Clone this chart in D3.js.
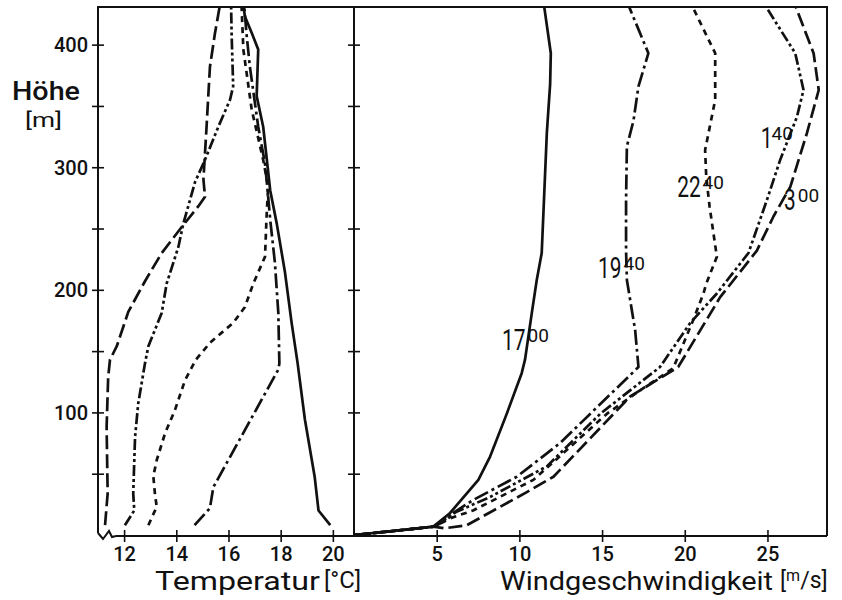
<!DOCTYPE html>
<html><head><meta charset="utf-8">
<script src="https://cdn.jsdelivr.net/npm/d3@7"></script>
<style>
body{margin:0;background:#fff}
text{font-family:Roboto,"DejaVu Sans",sans-serif;fill:#111;font-weight:400}
</style>
</head><body>
<svg id="chart" width="842" height="600"></svg>
<script>
// ---------- data ----------
const heightTicks = [50,100,150,200,250,300,350,400];
const heightLabels = [100,200,300,400];
const tempTicks = [12,14,16,18,20];
const windTicks = [5,10,15,20,25];
const seriesTimes = ["17:00","19:40","22:40","1:40","3:00"];

// temperature profiles [°C, height m]
const temp1700 = [[19.9,8],[19.45,20],[19.3,48],[18.93,94],[18.65,140],[18.42,173],[18.16,215],[17.85,254],[17.6,281],[17.33,333],[17.08,358],[17.14,396],[16.9,409],[16.63,423],[16.57,432]];
const temp1940 = [[14.7,8],[15.29,22],[15.42,39],[17.91,135],[17.95,140],[17.91,181],[17.78,222],[17.6,257],[17.5,281],[17.4,303],[17.14,333],[16.82,382],[16.69,409],[16.6,432]];
const temp2240 = [[12.93,8],[13.25,23],[13.18,34],[13.12,48],[13.25,61],[13.57,83],[13.95,102],[14.33,126],[14.75,143],[15.3,157],[16.18,173],[16.63,186],[16.95,205],[17.4,227],[17.46,260],[17.52,284],[17.33,306],[16.89,347],[16.57,396],[16.5,432]];
const temp0140 = [[12.03,8],[12.39,20],[12.35,34],[12.42,80],[12.54,107],[12.8,140],[12.93,154],[13.44,181],[13.63,205],[14.08,235],[14.27,254],[14.72,288],[15.1,306],[15.61,333],[16.06,355],[16.18,366],[16.12,409],[16.1,432]];
const temp0300 = [[11.27,8],[11.37,34],[11.33,88],[11.39,129],[11.46,143],[11.72,154],[12.16,182],[12.8,207],[13.44,230],[14.2,251],[14.84,268],[15.1,276],[15.04,290],[15.16,333],[15.29,382],[15.48,409],[15.67,432]];

// wind profiles [m/s, height m]
const wind1700 = [[0,0],[2.0,2.7],[4.8,6.8],[5.81,18],[7.52,45],[8.23,64],[9.24,99],[10.14,132],[10.34,143],[10.75,181],[11.05,208],[11.35,230],[11.66,328],[11.86,368],[11.9,393],[11.49,432]];
const wind1940 = [[0,0],[2.0,2.7],[4.8,6.8],[5.6,12],[6.0,18],[7.2,28.5],[9.84,47.5],[12.46,75],[17.2,137],[17.0,167],[16.5,208],[16.45,232],[16.45,273],[16.5,317],[16.9,338],[17.2,366],[17.8,393],[16.6,432]];
const wind2240 = [[0,0],[2.0,2.7],[4.8,6.8],[5.8,13.6],[7.2,20],[10.85,45],[12.67,67],[15.3,99],[17.3,118],[19.3,136],[20.5,175],[21.13,197],[21.3,205],[21.94,227],[21.5,268],[21.3,292],[21.23,314],[21.84,355],[21.84,393],[20.43,432]];
const wind0140 = [[0,0],[2.0,2.7],[4.8,6.8],[6.2,19],[8.23,31],[11.66,56],[14.9,99],[18.5,137],[20.33,173],[21.94,197],[23.85,230],[24.96,273],[25.77,306],[26.78,341],[27.18,363],[26.68,393],[24.86,432]];
const wind0300 = [[0,0],[2.0,2.7],[4.8,6.8],[5.5,5.5],[6.82,8],[10.45,35],[12.06,47.5],[16.7,113],[19.6,137],[22.14,194],[24.36,232],[25.37,260],[26.38,284],[27.39,328],[28.1,363],[27.79,393],[26.68,432]];

const tempSeries = [temp1700, temp1940, temp2240, temp0140, temp0300];
const windSeries = [wind1700, wind1940, wind2240, wind0140, wind0300];
const labelMain = ["17","19","22","1","3"];
const labelSup  = ["00","40","40","40","00"];
// label anchors in data units [m/s, m]
const labelAnchor = [[8.95,151],[14.76,209.6],[19.54,275.7],[24.6,315.7],[26.0,265]];

// ---------- layout / style ----------
const dashes = [null, "15,4,3,4", "6,5", "11,3,3,3,3,3", "14,5"];

const svg = d3.select("#chart");
const y = d3.scaleLinear().domain([0, 430.7]).range([535, 7]);
const xT = d3.scaleLinear().domain([11, 20.81]).range([98, 354]);
const xW = d3.scaleLinear().domain([0, 28.6]).range([354, 827]);

const defs = svg.append("defs");
defs.append("clipPath").attr("id","clipL").append("rect").attr("x",98).attr("y",7).attr("width",256).attr("height",530);
defs.append("clipPath").attr("id","clipR").append("rect").attr("x",354).attr("y",7).attr("width",473).attr("height",530);

// frame
const frame = svg.append("g").attr("stroke","#111").attr("stroke-width",2).attr("fill","none");
frame.append("line").attr("x1",97).attr("x2",828).attr("y1",7).attr("y2",7);
frame.append("line").attr("x1",98).attr("x2",98).attr("y1",7).attr("y2",533);
frame.append("path").attr("d","M98,533 L103,539 L109,531 L112,537 L116,536");
frame.append("line").attr("x1",116).attr("x2",827).attr("y1",536).attr("y2",536);
frame.append("line").attr("x1",827).attr("x2",827).attr("y1",7).attr("y2",536);

// y axes
function styleY(g){
  g.selectAll(".tick line").attr("x1",-6).attr("x2",6).attr("stroke","#111").attr("stroke-width",1.6);
  g.selectAll(".tick text").attr("x",-10).style("font-size","20px").style("font-weight","500").attr("dy","0.35em");
}
const gyL = svg.append("g").attr("transform","translate(98,0)")
  .call(d3.axisLeft(y).tickValues(heightTicks).tickSize(6).tickFormat(d => heightLabels.includes(d) ? d : ""));
styleY(gyL);
gyL.select(".domain").remove();
const gyR = svg.append("g").attr("transform","translate(354,0)")
  .call(d3.axisLeft(y).tickValues(heightTicks).tickSize(6).tickFormat(""));
gyR.select(".domain").attr("d","M0,7V536").attr("stroke","#111").attr("stroke-width",2);
styleY(gyR);

// x axes
function styleX(g){
  g.select(".domain").remove();
  g.selectAll(".tick line").attr("y1",-6).attr("y2",6).attr("stroke","#111").attr("stroke-width",1.6);
  g.selectAll(".tick text").attr("y",11).attr("dy","0.71em").style("font-size","20px").style("font-weight","500");
}
const gxT = svg.append("g").attr("transform","translate(0,536)").call(d3.axisBottom(xT).tickValues(tempTicks).tickSize(6));
styleX(gxT);
const gxW = svg.append("g").attr("transform","translate(0,536)").call(d3.axisBottom(xW).tickValues(windTicks).tickSize(6));
styleX(gxW);

// curves
const lineT = d3.line().x(d => xT(d[0])).y(d => y(d[1]));
const lineW = d3.line().x(d => xW(d[0])).y(d => y(d[1]));
const gL = svg.append("g").attr("clip-path","url(#clipL)");
const gR = svg.append("g").attr("clip-path","url(#clipR)");
tempSeries.forEach((s,i) => {
  gL.append("path").attr("d", lineT(s)).attr("fill","none").attr("stroke","#111")
    .attr("stroke-width",2.7).attr("stroke-dasharray", dashes[i]).attr("stroke-linejoin","round");
});
windSeries.forEach((s,i) => {
  gR.append("path").attr("d", lineW(s)).attr("fill","none").attr("stroke","#111")
    .attr("stroke-width",2.7).attr("stroke-dasharray", dashes[i]).attr("stroke-linejoin","round");
});

// curve labels: condensed main digits + superscript minutes
const condense = 0.72;
labelAnchor.forEach((a,i) => {
  const x0 = xW(a[0]), y0 = y(a[1]);
  const m = svg.append("text").attr("transform",`translate(${x0},${y0}) scale(${condense},1)`)
    .style("font-size","29px").text(labelMain[i]);
  const bb = m.node().getBBox();
  const w = m.node().getComputedTextLength() * condense;
  const gap = labelMain[i] === "1" ? -1 : 2;
  svg.append("text").attr("x", x0 + w + gap).attr("y", y0 - 8).style("font-size","19px").text(labelSup[i]);
});

// axis titles
svg.append("text").attr("x",12).attr("y",100).style("font-size","26px").style("font-weight","500")
  .attr("textLength",68).attr("lengthAdjust","spacingAndGlyphs").text("Höhe");
svg.append("text").attr("x",25).attr("y",127).style("font-size","21px")
  .attr("textLength",37).attr("lengthAdjust","spacingAndGlyphs").text("[m]");
svg.append("text").attr("x",155).attr("y",590).style("font-size","26px")
  .attr("textLength",165).attr("lengthAdjust","spacingAndGlyphs").text("Temperatur");
svg.append("text").attr("x",324).attr("y",588).style("font-size","23px")
  .attr("textLength",37).attr("lengthAdjust","spacingAndGlyphs").text("[°C]");
svg.append("text").attr("x",500).attr("y",590).style("font-size","26px")
  .attr("textLength",273).attr("lengthAdjust","spacingAndGlyphs").text("Windgeschwindigkeit");
const unit = svg.append("text").attr("x",780).attr("y",588).style("font-size","23px");
unit.append("tspan").text("[");
unit.append("tspan").attr("dy",-7).style("font-size","16px").text("m");
unit.append("tspan").attr("dy",7).text("/s]");
</script>
</body></html>
